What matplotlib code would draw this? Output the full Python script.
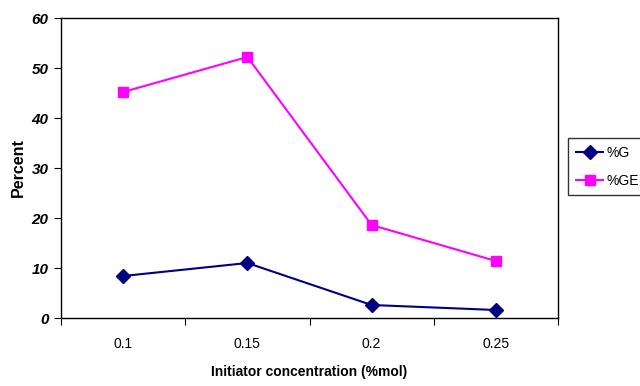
import matplotlib

matplotlib.use("Agg")
import matplotlib.pyplot as plt

plt.rcParams["font.family"] = ["Liberation Sans", "DejaVu Sans"]

categories = ["0.1", "0.15", "0.2", "0.25"]
pct_g = [8.4, 11.0, 2.6, 1.6]
pct_ge = [45.2, 52.2, 18.6, 11.4]
y_ticks = [0, 10, 20, 30, 40, 50, 60]

fig = plt.figure(figsize=(6.4, 3.86), dpi=100)
ax = fig.add_axes([61 / 640, 1 - 318 / 386, (558 - 61) / 640, (318 - 18) / 386])

x = list(range(len(categories)))
ax.plot(x, pct_g, color="#000080", marker="D", markersize=7, linewidth=1.5, label="%G")
ax.plot(x, pct_ge, color="#FF00FF", marker="s", markersize=7, linewidth=1.5, label="%GE")

ax.set_xlim(-0.5, len(categories) - 0.5)
ax.set_ylim(0, 60)
ax.set_yticks(y_ticks)
ax.set_yticklabels([str(v) for v in y_ticks], fontsize=11, fontweight="bold", fontstyle="italic")

ax.set_xticks([i - 0.5 for i in range(len(categories) + 1)])
ax.set_xticklabels([])
ax.set_xticks(x, minor=True)
ax.set_xticklabels(categories, minor=True, fontsize=10)
ax.tick_params(axis="x", which="minor", length=0, pad=14)
ax.tick_params(axis="x", which="major", length=5, direction="out")
ax.tick_params(axis="y", length=5, direction="out", pad=4)

for spine in ax.spines.values():
    spine.set_linewidth(1.0)
    spine.set_color("black")

ax.set_xlabel("Initiator concentration (%mol)", fontsize=10, fontweight="bold", labelpad=10)
ax.set_ylabel("Percent", fontsize=11.5, fontweight="bold", labelpad=4)

fig.legend(
    loc="upper left",
    bbox_to_anchor=(568 / 640, 1 - 138 / 386),
    bbox_transform=fig.transFigure,
    fontsize=10,
    frameon=True,
    fancybox=False,
    edgecolor="black",
    handlelength=2.0,
    borderpad=0.55,
    labelspacing=1.0,
    handletextpad=0.25,
    borderaxespad=0,
)

fig.savefig("out.png", dpi=100)
